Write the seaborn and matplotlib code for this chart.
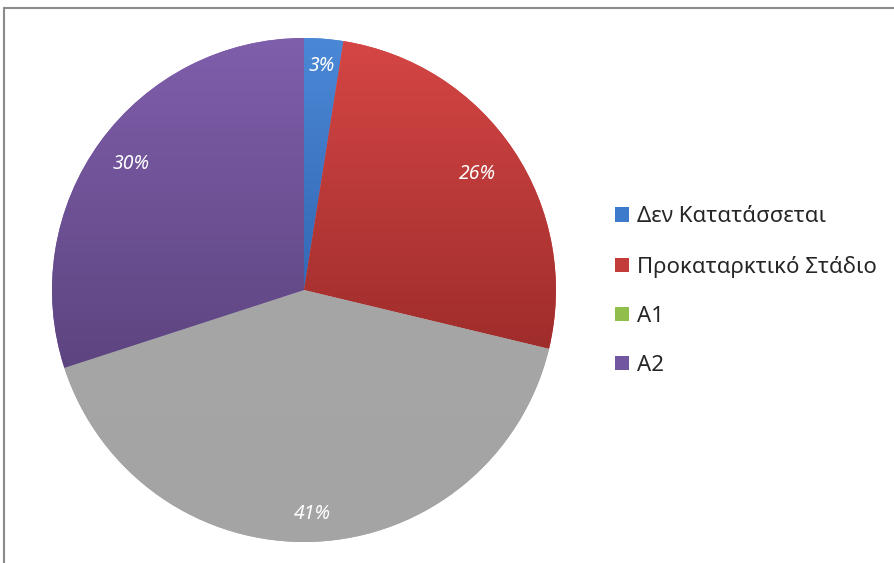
import numpy as np
import matplotlib
matplotlib.use("Agg")
import matplotlib.pyplot as plt
import seaborn as sns
from matplotlib.colors import to_rgb
from matplotlib.lines import Line2D
from matplotlib.patches import Patch

categories = ["Δεν Κατατάσσεται", "Προκαταρκτικό Στάδιο", "A1", "A2"]
values = [2, 21, 33, 24]
pct_labels = ["3%", "26%", "41%", "30%"]
slice_top = ["#4a88d6", "#d44645", "#a6a6a6", "#7f5eab"]
slice_bottom = ["#3468b4", "#9f2d2b", "#a4a4a4", "#5d4580"]
legend_colors = ["#3d7acb", "#c43c3a", "#8fbf4a", "#7256a0"]

sns.set_theme(style="white")
plt.rcParams['font.family'] = ['Noto Sans', 'DejaVu Sans']

fig = plt.figure(figsize=(8.95, 5.63), dpi=100)
ax = fig.add_axes([0.0581, 0.0373, 0.5631, 0.8952])

wedges, _ = ax.pie(values, startangle=90, counterclock=False, radius=1,
                   colors=sns.color_palette(slice_top),
                   wedgeprops=dict(linewidth=0))
ax.set_xlim(-1, 1)
ax.set_ylim(-1, 1)
ax.set_aspect('equal')
ax.axis('off')

# vertical gradients clipped to each wedge
for w, ct, cb in zip(wedges, slice_top, slice_bottom):
    th1, th2 = np.deg2rad(w.theta1), np.deg2rad(w.theta2)
    ths = np.linspace(th1, th2, 200)
    ys = np.concatenate([np.sin(ths), [0]])
    ytop, ybot = ys.max(), ys.min()
    n = 256
    t = np.linspace(0, 1, n)[:, None]
    c1, c2 = np.array(to_rgb(ct)), np.array(to_rgb(cb))
    img = (c1[None, :] * (1 - t) + c2[None, :] * t)[:, None, :]
    img = np.repeat(img, 2, axis=1)
    im = ax.imshow(img, extent=[-1, 1, ybot, ytop], origin='upper',
                   aspect='auto', zorder=2, interpolation='bilinear')
    im.set_clip_path(w)

# percentage labels
total = sum(values)
cum = 0
dists = [0.89, 0.83, 0.89, 0.85]
for v, lab, d in zip(values, pct_labels, dists):
    mid = 90 - 360 * (cum + v / 2) / total
    cum += v
    x, y = d * np.cos(np.deg2rad(mid)), d * np.sin(np.deg2rad(mid))
    ax.text(x, y, lab, ha='center', va='center', color='white',
            fontsize=14, style='italic', zorder=5)

ax.set_xlim(-1, 1)
ax.set_ylim(-1, 1)

handles = [Patch(facecolor=c, edgecolor='none') for c in legend_colors]
leg = fig.legend(handles, categories, loc='upper left',
                 bbox_to_anchor=(0.665, 0.669), frameon=False,
                 fontsize=16, handlelength=0.6, handleheight=0.6,
                 handletextpad=0.4, labelspacing=1.27)

# outer frame (top and left edges visible)
fig.add_artist(Line2D([4.5 / 895, 1], [1 - 7.5 / 563, 1 - 7.5 / 563],
                      color='#8a8a8a', lw=1.5, transform=fig.transFigure))
fig.add_artist(Line2D([4.5 / 895, 4.5 / 895], [0, 1 - 7.5 / 563],
                      color='#8a8a8a', lw=1.5, transform=fig.transFigure))

fig.savefig("out.png", dpi=100, facecolor='white')
